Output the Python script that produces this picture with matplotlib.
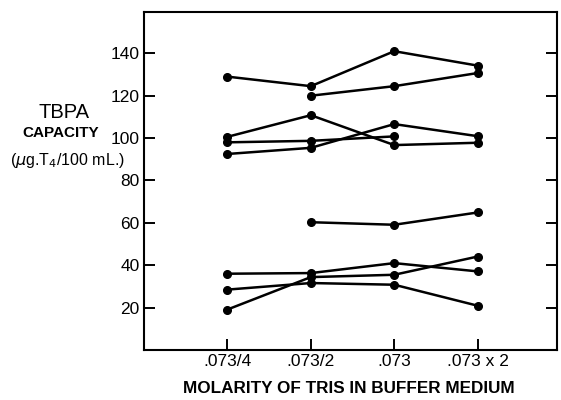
import matplotlib
import matplotlib.pyplot as plt

matplotlib.use('Agg')

# x categories (molarity of tris)
molarity_labels = ['.073/4', '.073/2', '.073', '.073 x 2']
molarity_pos = [1, 2, 3, 4]

# TBPA capacity per serum, None where not measured
serum_a = [129.0, 124.5, 141.0, 134.2]
serum_b = [None, 120.0, 124.5, 130.7]
serum_c = [100.6, 110.8, 96.7, 97.8]
serum_d = [98.0, 98.7, 100.8, None]
serum_e = [92.5, 95.4, 106.6, 100.9]
serum_f = [None, 60.3, 59.1, 64.9]
serum_g = [36.0, 36.3, 41.0, 37.1]
serum_h = [28.5, 31.6, 30.8, 20.9]
serum_i = [19.1, 34.4, 35.5, 44.1]

all_series = [serum_a, serum_b, serum_c, serum_d, serum_e,
              serum_f, serum_g, serum_h, serum_i]

yticks = [20, 40, 60, 80, 100, 120, 140]

plt.rcParams['font.family'] = ['Liberation Sans', 'DejaVu Sans']

fig = plt.figure(figsize=(5.61, 4.0), dpi=100)
ax = fig.add_axes([0.2567, 0.125, 0.736, 0.845])

for s in all_series:
    xs = [x for x, v in zip(molarity_pos, s) if v is not None]
    ys = [v for v in s if v is not None]
    ax.plot(xs, ys, color='black', linewidth=1.8, marker='o',
            markersize=5.5, markerfacecolor='black', markeredgecolor='black')

ax.set_xlim(0, 4.95)
ax.set_ylim(0, 159.5)
ax.set_xticks(molarity_pos)
ax.set_xticklabels(molarity_labels, fontsize=12.5)
ax.set_yticks(yticks)
ax.set_yticklabels([str(t) for t in yticks], fontsize=12.5)
ax.tick_params(direction='in', length=8, width=1.4, right=True)
ax.tick_params(axis='x', pad=3)
ax.tick_params(axis='y', pad=3)
for sp in ax.spines.values():
    sp.set_linewidth(1.5)

fig.text(0.114, 0.72, 'TBPA', ha='center', va='center', fontsize=14.5)
fig.text(0.109, 0.667, 'CAPACITY', ha='center', va='center', fontsize=11,
         fontweight='bold')
fig.text(0.12, 0.60, r'($\mu$g.T$_4$/100 mL.)', ha='center', va='center',
         fontsize=11.5)
fig.text(0.622, 0.028, 'MOLARITY OF TRIS IN BUFFER MEDIUM', ha='center',
         va='center', fontsize=12.3, fontweight='bold')

fig.savefig('out.png', dpi=100)
